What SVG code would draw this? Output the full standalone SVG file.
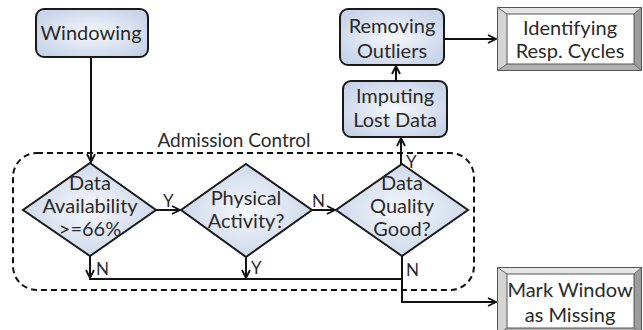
<svg xmlns="http://www.w3.org/2000/svg" width="643" height="330" viewBox="0 0 643 330">
<defs>
<radialGradient id="gb" cx="50%" cy="50%" r="60%">
<stop offset="0" stop-color="#f6f8fc"/>
<stop offset="1" stop-color="#c6d3e8"/>
</radialGradient>
<marker id="ar" viewBox="0 0 10 10" refX="9" refY="5" markerWidth="10" markerHeight="10" markerUnits="userSpaceOnUse" orient="auto">
<path d="M1,1 L9,5 L1,9" fill="none" stroke="#111" stroke-width="1.8"/>
</marker>
</defs>
<style>
.box{fill:url(#gb);stroke:#1a1a1a;stroke-width:2}
.t{font-family:Lato,"Liberation Sans",sans-serif;font-size:20px;fill:#2a2a2a;text-anchor:middle}
.ac{font-size:19px}
.lb{font-family:Lato,"Liberation Sans",sans-serif;font-size:17px;fill:#2a2a2a}
.c{fill:none;stroke:#111;stroke-width:2}
.a{marker-end:url(#ar)}
.bt{fill:#e4e4e4}.bl{fill:#d4d4d4}.br{fill:#9c9c9c}.bb{fill:#b0b0b0}
.bo{fill:none;stroke:#555;stroke-width:1}
.bi{fill:#fff;stroke:#555;stroke-width:1}
</style>
<g id="admission-control">
<rect x="13" y="153" width="461" height="137" rx="24" fill="none" stroke="#111" stroke-width="2" stroke-dasharray="6,4"/>
<text class="t ac" x="234" y="147">Admission Control</text>
</g>
<g id="windowing">
<rect class="box" x="36" y="9" width="112" height="48" rx="8"/>
<text class="t" x="91" y="40">Windowing</text>
</g>
<g id="removing-outliers">
<rect class="box" x="340" y="9" width="104" height="56" rx="8"/>
<text class="t" x="392" y="33">Removing</text>
<text class="t" x="392" y="58">Outliers</text>
</g>
<g id="imputing">
<rect class="box" x="343" y="81" width="104" height="56" rx="8"/>
<text class="t" x="395" y="103">Imputing</text>
<text class="t" x="395" y="127">Lost Data</text>
</g>
<g id="data-availability">
<polygon class="box" points="90,163 156,210 90,256 23,210"/>
<text class="t" x="90" y="190">Data</text>
<text class="t" x="90" y="213">Availability</text>
<text class="t" x="90" y="236">&gt;=66%</text>
</g>
<g id="physical-activity">
<polygon class="box" points="246,164 312,210 246,257 181,210"/>
<text class="t" x="246" y="205">Physical</text>
<text class="t" x="246" y="228">Activity?</text>
</g>
<g id="data-quality">
<polygon class="box" points="402,164 468,210 402,256 336,210"/>
<text class="t" x="402" y="190">Data</text>
<text class="t" x="402" y="213">Quality</text>
<text class="t" x="402" y="236">Good?</text>
</g>
<g id="identifying">
<polygon class="bt" points="497,7 642,7 634,14 507,14"/>
<polygon class="bl" points="497,7 507,14 507,64 497,71"/>
<polygon class="br" points="642,7 642,71 634,64 634,14"/>
<polygon class="bb" points="497,71 642,71 634,64 507,64"/>
<rect class="bo" x="497.5" y="7.5" width="144" height="63"/>
<rect class="bi" x="507" y="14" width="127" height="50"/>
<path d="M497,7 L507,14 M642,7 L634,14 M497,71 L507,64 M642,71 L634,64" stroke="#666" stroke-width="1"/>
<text class="t" x="570" y="35">Identifying</text>
<text class="t" x="570" y="58">Resp. Cycles</text>
</g>
<g id="mark-window">
<polygon class="bt" points="497,267 642,267 634,274 507,274"/>
<polygon class="bl" points="497,267 507,274 507,328 497,335"/>
<polygon class="br" points="642,267 642,335 634,328 634,274"/>
<polygon class="bb" points="497,335 642,335 634,328 507,328"/>
<rect class="bo" x="497.5" y="267.5" width="144" height="68"/>
<rect class="bi" x="507" y="274" width="127" height="54"/>
<path d="M497,267 L507,274 M642,267 L634,274 M497,335 L507,328 M642,335 L634,328" stroke="#666" stroke-width="1"/>
<text class="t" x="570" y="297">Mark Window</text>
<text class="t" x="570" y="322">as Missing</text>
</g>
<g id="connectors">
<path class="c a" d="M91,57 V162"/>
<path class="c a" d="M156,210 H180"/>
<path class="c a" d="M312,210 H335"/>
<path class="c a" d="M90,256 V278"/>
<path class="c a" d="M246,257 V278"/>
<path class="c" d="M89,279 H402"/>
<path class="c a" d="M402,256 V302 H496"/>
<path class="c a" d="M401,164 V138"/>
<path class="c a" d="M396,81 V66"/>
<path class="c a" d="M444,39 H496"/>
<text class="lb" x="163" y="207">Y</text>
<text class="lb" x="312" y="207">N</text>
<text class="lb" x="96" y="275">N</text>
<text class="lb" x="251" y="274">Y</text>
<text class="lb" x="406" y="276">N</text>
<text class="lb" x="406" y="168">Y</text>
</g>
</svg>
